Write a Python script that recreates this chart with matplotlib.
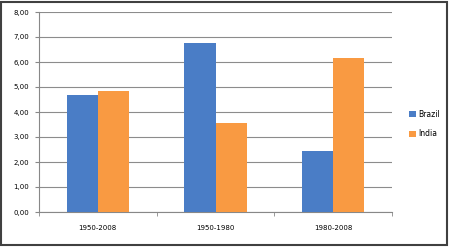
import numpy as np
import matplotlib
matplotlib.use("Agg")
import matplotlib.pyplot as plt
from matplotlib.patches import Rectangle

periods = ["1950-2008", "1950-1980", "1980-2008"]
brazil = [4.68, 6.77, 2.45]
india = [4.85, 3.55, 6.17]
series_names = ["Brazil", "India"]
yticks = np.arange(0, 9, 1)

blue = "#4a7dc6"
orange = "#f99a42"

fig = plt.figure(figsize=(4.5, 2.47), dpi=100)
ax = fig.add_axes([39 / 450, 35 / 247, 353 / 450, 200 / 247])

x = np.arange(len(periods))
w = 0.265
ax.bar(x - w / 2, brazil, w, color=blue, label=series_names[0], zorder=3)
ax.bar(x + w / 2, india, w, color=orange, label=series_names[1], zorder=3)

ax.set_xlim(-0.5, len(periods) - 0.5)
ax.set_ylim(0, 8)
ax.set_yticks(yticks)
ax.set_yticklabels([f"{v:.2f}".replace(".", ",") for v in yticks], fontsize=5)
ax.set_xticks(x)
ax.set_xticklabels(periods, fontsize=5)
ax.set_xticks(np.arange(-0.5, len(periods), 1), minor=True)
ax.tick_params(axis="x", which="major", length=0, pad=9)
ax.tick_params(axis="x", which="minor", length=3, color="#888888")
ax.tick_params(axis="y", length=3, color="#888888", pad=4)
ax.grid(axis="y", color="#8c8c8c", linewidth=0.8, zorder=0)
for s in ["top", "right"]:
    ax.spines[s].set_visible(False)
ax.spines["left"].set_color("#888888")
ax.spines["bottom"].set_color("#888888")

ax.legend(loc="center left", bbox_to_anchor=(1.03, 0.44), frameon=False,
          fontsize=5.5, handlelength=0.8, handleheight=0.8, handletextpad=0.3,
          labelspacing=1.4)

fig.patches.append(Rectangle((0.003, 0.008), 0.99, 0.985, transform=fig.transFigure,
                             fill=False, edgecolor="#404040", linewidth=1.5))

fig.savefig("out.png", dpi=100)
